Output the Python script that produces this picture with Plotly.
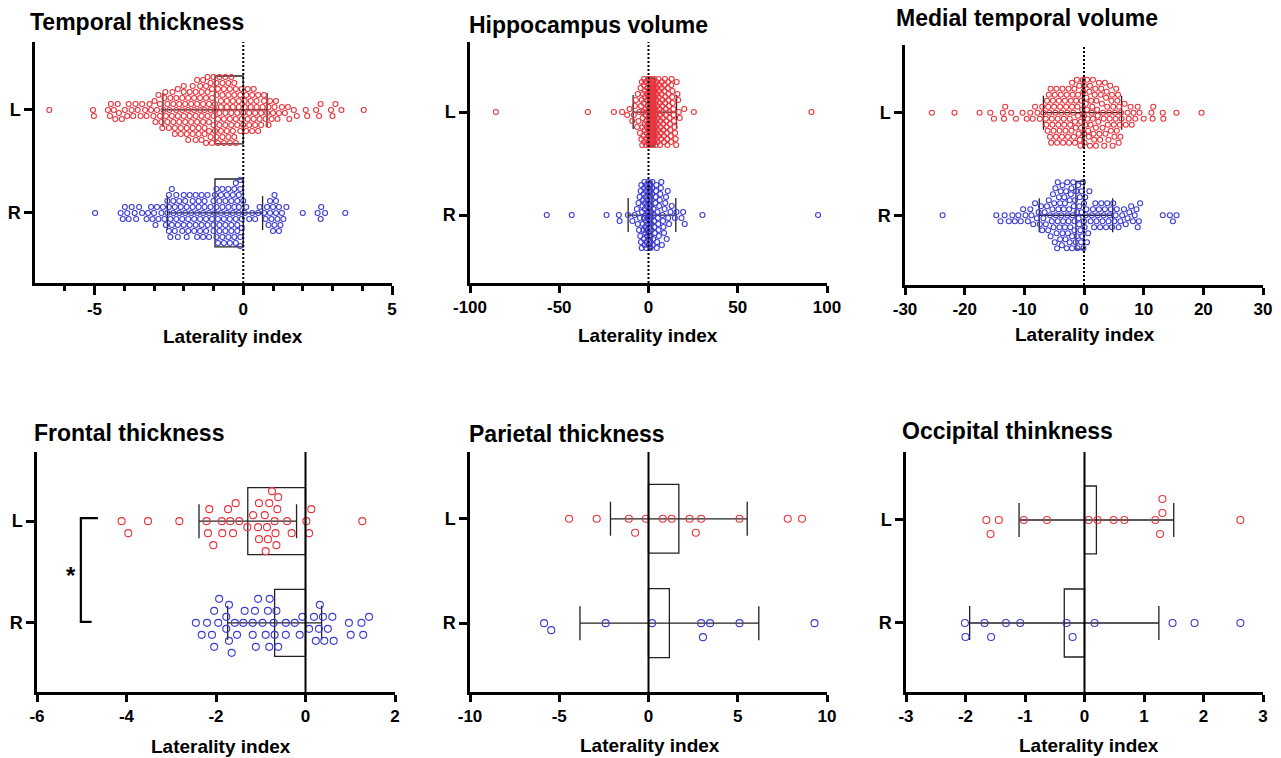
import numpy as np
import plotly.graph_objects as go

W, H = 1281, 758
RED = '#e8333c'
BLUE = '#3b3bd4'
FONT = 'Liberation Sans, Arial, sans-serif'

# ---------------- data ----------------
titles = ['Temporal thickness', 'Hippocampus volume', 'Medial temporal volume',
          'Frontal thickness', 'Parietal thickness', 'Occipital thinkness']
x_title = 'Laterality index'
cat_ticks = ['R', 'L']

x_tick_vals = [[-5, 0, 5], [-100, -50, 0, 50, 100], [-30, -20, -10, 0, 10, 20, 30],
               [-6, -4, -2, 0, 2], [-10, -5, 0, 5, 10], [-3, -2, -1, 0, 1, 2, 3]]
x_tick_text = [['-5', '0', '5'], ['-100', '-50', '0', '50', '100'],
               ['-30', '-20', '-10', '0', '10', '20', '30'],
               ['-6', '-4', '-2', '0', '2'], ['-10', '-5', '0', '5', '10'],
               ['-3', '-2', '-1', '0', '1', '2', '3']]
temporal_minor_ticks = [-6, -4, -3, -2, -1, 1, 2, 3, 4]

temporal_L = [
    -6.52, -5.05, -5.02,
    -4.55, -4.48, -4.45, -4.35, -4.3, -4.22, -4.18, -4.08, -3.98, -3.9, -3.85, -3.75, -3.7, -3.62,
    -3.55, -3.45, -3.4, -3.3, -3.25, -3.15, -3.1, -3.02,
    -2.98, -2.95, -2.9, -2.85, -2.8, -2.8, -2.75, -2.72,
    -2.68, -2.65, -2.62, -2.6, -2.55, -2.55, -2.5, -2.48, -2.45, -2.4, -2.38, -2.35,
    -2.35, -2.3, -2.3, -2.25, -2.25, -2.2, -2.2, -2.15, -2.15, -2.1, -2.1, -2.05, -2.05, -2.0, -2.0,
    -2.0, -1.95, -1.95, -1.9, -1.9, -1.85, -1.85, -1.85, -1.8, -1.8, -1.75, -1.75, -1.7, -1.7, -1.7,
    -1.65, -1.65, -1.6, -1.6, -1.6, -1.55, -1.55, -1.55, -1.5, -1.5,
    -1.45, -1.45, -1.45, -1.4, -1.4, -1.4, -1.35, -1.35, -1.35, -1.3, -1.3, -1.3, -1.25, -1.25, -1.25,
    -1.2, -1.2, -1.2, -1.15, -1.15, -1.15, -1.1, -1.1, -1.1, -1.05, -1.05, -1.05, -1.0, -1.0, -1.0,
    -0.95, -0.95, -0.95, -0.9, -0.9, -0.9, -0.85, -0.85, -0.85, -0.8, -0.8, -0.8, -0.75, -0.75, -0.75,
    -0.7, -0.7, -0.7, -0.65, -0.65, -0.65, -0.6, -0.6, -0.6, -0.55, -0.55, -0.55, -0.5, -0.5, -0.5,
    -0.45, -0.45, -0.45, -0.4, -0.4, -0.4, -0.35, -0.35, -0.35, -0.3, -0.3, -0.3, -0.25, -0.25, -0.25,
    -0.2, -0.2, -0.15, -0.15, -0.1, -0.1, -0.05, -0.05, 0.0, 0.0,
    0.05, 0.05, 0.1, 0.1, 0.15, 0.15, 0.2, 0.2, 0.25, 0.25, 0.3, 0.3, 0.35, 0.35, 0.4, 0.4,
    0.45, 0.45, 0.5, 0.5, 0.55, 0.6, 0.6, 0.65, 0.7, 0.7, 0.75, 0.8,
    0.85, 0.85, 0.9, 0.95, 1.0, 1.05, 1.1, 1.15, 1.2, 1.3,
    1.4, 1.5, 1.55, 1.7, 1.8, 2.1, 2.15, 2.45, 2.55, 2.6, 2.95, 3.0, 3.1, 3.3, 4.05]

temporal_R = [
    -4.98,
    -4.12, -4.05, -3.98, -3.9, -3.85, -3.75, -3.65, -3.6, -3.5, -3.4,
    -3.25, -3.2, -3.1, -3.05, -3.0, -2.95, -2.9, -2.85, -2.75, -2.7, -2.65, -2.6,
    -2.55, -2.55, -2.5, -2.5, -2.5, -2.45, -2.45, -2.4, -2.4, -2.35, -2.35, -2.3, -2.3, -2.25, -2.25,
    -2.2, -2.2, -2.15, -2.15, -2.1, -2.05, -2.05, -2.0, -2.0, -1.95, -1.95, -1.9, -1.9, -1.85, -1.85,
    -1.8, -1.8, -1.75, -1.7, -1.7, -1.65, -1.65, -1.6, -1.6, -1.55, -1.55, -1.5, -1.5, -1.45, -1.45,
    -1.4, -1.4, -1.35, -1.35, -1.3, -1.3, -1.25, -1.25, -1.2, -1.2, -1.15, -1.15, -1.1, -1.05,
    -1.0, -1.0, -1.0, -0.95, -0.95, -0.9, -0.9, -0.9, -0.85, -0.85, -0.8, -0.8, -0.8, -0.75, -0.75,
    -0.7, -0.7, -0.7, -0.65, -0.65, -0.6, -0.6, -0.6, -0.55, -0.55, -0.5, -0.5, -0.5, -0.45, -0.45,
    -0.4, -0.4, -0.4, -0.35, -0.35, -0.3, -0.3, -0.3, -0.25, -0.25, -0.25, -0.2, -0.2, -0.2,
    -0.15, -0.15, -0.15, -0.1, -0.1, -0.1, -0.1, -0.05, -0.05, 0.0, 0.05,
    0.1, 0.2, 0.3, 0.4, 0.5, 0.55,
    0.7, 0.75, 0.8, 0.85, 0.9, 0.9, 0.95, 1.0, 1.0, 1.05, 1.05, 1.1, 1.1, 1.15, 1.2, 1.2, 1.25, 1.3,
    1.35, 1.45,
    2.0, 2.5, 2.6, 2.62, 2.75, 3.43]

hippocampus_L = [
    -85.5, -34.0, -19.4, -14.8, -11.9, -10.6, -9.1,
    -8.2, -7.6, -7.1, -6.4, -6.0, -5.6, -5.1, -4.8, -4.5, -4.2,
    -4.0, -3.8, -3.7, -3.5, -3.4, -3.3, -3.1, -3.0, -2.9, -2.7, -2.6, -2.5, -2.4, -2.2, -2.1, -2.0,
    -1.9, -1.7, -1.6, -1.5, -1.4, -1.3, -1.2, -1.0, -0.9, -0.8, -0.7, -0.6, -0.5, -0.4, -0.3, -0.2,
    -0.1, -0.05, 0.0, 0.0, 0.1,
    0.1, 0.2, 0.2, 0.3, 0.4, 0.4, 0.5, 0.6, 0.7, 0.7, 0.8, 0.9, 1.0, 1.0, 1.1, 1.2, 1.3, 1.3, 1.4,
    1.5, 1.6, 1.6, 1.7, 1.8, 1.9, 2.0, 2.0, 2.1, 2.2, 2.3, 2.4, 2.4, 2.5, 2.6, 2.7, 2.8, 2.8, 2.9,
    3.0, 3.1, 3.2, 3.2, 3.3, 3.4, 3.5, 3.6, 3.6, 3.7, 3.8, 3.9, 4.0, 4.0, 4.1, 4.2, 4.3, 4.4, 4.5,
    4.5, 4.6, 4.7, 4.8, 4.9, 5.0, 5.1, 5.2, 5.3, 5.5, 5.6, 5.8, 5.9,
    6.0, 6.1, 6.3, 6.4, 6.5, 6.7, 6.8, 7.0, 7.1, 7.2, 7.4, 7.5, 7.7, 7.8, 8.0, 8.1, 8.3, 8.4, 8.6,
    8.7, 8.9, 9.0, 9.2, 9.3, 9.5, 9.7, 9.8, 10.0, 10.2, 10.3, 10.5, 10.6, 10.8, 11.0, 11.1, 11.3,
    11.5, 11.6, 11.8, 12.0,
    12.2, 12.4, 12.6, 12.8, 13.0, 13.2, 13.4, 13.6, 13.9, 14.1, 14.3, 14.6, 14.9, 15.2, 15.5, 15.8,
    16.2, 16.6, 17.0, 17.5,
    20.0, 25.4, 91.3]

hippocampus_R = [
    -57.0, -43.0, -23.5, -16.6, -16.2, -11.5, -9.0, -7.8,
    -6.5, -6.0, -5.6, -5.3, -5.0, -4.8, -4.6, -4.4, -4.2, -4.0, -3.8, -3.6, -3.4, -3.2, -3.0, -2.9,
    -2.7, -2.6, -2.5, -2.4, -2.3, -2.2, -2.1, -2.0,
    -1.9, -1.8, -1.7, -1.6, -1.5, -1.4, -1.3, -1.2, -1.1, -1.0, -0.9, -0.8, -0.7, -0.6, -0.5, -0.4,
    -0.3, -0.2, -0.1, 0.0, 0.0, 0.1, 0.2, 0.3, 0.4, 0.5, 0.6, 0.7, 0.8, 0.9, 1.0, 1.1, 1.2, 1.3,
    1.4, 1.5, 1.6, 1.7, 1.8, 1.9, 2.0,
    2.2, 2.4, 2.6, 2.8, 3.0, 3.2, 3.4, 3.6, 3.8, 4.0, 4.2, 4.4, 4.6, 4.8, 5.0, 5.2, 5.4, 5.6, 5.8, 6.0,
    6.3, 6.6, 6.9, 7.2, 7.5, 7.8, 8.1, 8.4, 8.7, 9.0, 9.4, 9.8,
    10.2, 10.8, 11.0, 11.5, 12.3, 13.0, 14.8, 15.7, 18.5, 19.4, 20.3, 30.2, 95.0]

medial_L = [
    -25.5, -21.7, -17.5, -15.7, -15.1, -13.6, -13.4, -13.2, -12.2, -11.4, -10.3, -9.6, -9.0, -8.6,
    -8.2, -7.8, -7.4, -7.0, -6.8,
    -6.4, -6.3, -6.2, -6.1, -6.0, -5.9, -5.8, -5.7, -5.6, -5.5, -5.4, -5.3, -5.2, -5.1, -5.0, -4.9,
    -4.8, -4.7, -4.6, -4.5, -4.4, -4.3, -4.2, -4.1, -4.0, -3.9, -3.8, -3.7, -3.6, -3.5, -3.4, -3.3,
    -3.2, -3.1, -3.0, -2.9, -2.8, -2.7, -2.6, -2.5, -2.4, -2.3, -2.2, -2.1, -2.0, -2.0, -1.9, -1.8,
    -1.7, -1.6, -1.5, -1.5, -1.4, -1.3, -1.2, -1.1, -1.0, -1.0, -0.9, -0.8, -0.7, -0.6, -0.5, -0.5,
    -0.4, -0.3, -0.2, -0.1, 0.0, 0.0, 0.0, 0.1, 0.2, 0.3, 0.4, 0.5, 0.5, 0.6, 0.7, 0.8, 0.9, 1.0,
    1.0, 1.1, 1.2, 1.3, 1.4, 1.5, 1.5, 1.6, 1.7, 1.8, 1.9, 2.0, 2.0, 2.1, 2.2, 2.3, 2.4, 2.5, 2.6,
    2.7, 2.8, 2.9, 3.0, 3.1, 3.2, 3.3, 3.4, 3.5, 3.6, 3.7, 3.8, 3.9, 4.0, 4.1, 4.2, 4.3, 4.4, 4.5,
    4.6, 4.7, 4.8, 4.9, 5.0, 5.1, 5.2, 5.3, 5.4, 5.5, 5.6, 5.7, 5.8, 5.9, 6.0, 6.1, 6.2, 6.3,
    6.8, 7.0, 7.3, 7.5, 7.8, 8.0, 8.3, 8.6, 9.0, 9.3, 10.0, 11.3, 11.5, 11.6, 13.2, 13.3, 15.5, 19.7]

medial_R = [
    -23.7,
    -14.7, -14.0, -13.3, -12.6, -12.0, -11.6, -11.0, -10.6, -10.2, -9.8, -9.4, -9.0, -8.8, -8.5,
    -8.2, -7.9, -7.6, -7.4, -7.2, -7.0, -6.8, -6.6, -6.4, -6.2, -6.0, -5.9, -5.7, -5.6, -5.4, -5.3,
    -5.2, -5.1, -5.0, -4.9, -4.8, -4.7, -4.6, -4.5, -4.4, -4.4, -4.3, -4.2, -4.1, -4.0, -4.0, -3.9,
    -3.8, -3.7, -3.6, -3.6, -3.5, -3.4, -3.3, -3.2, -3.2, -3.1, -3.0, -2.9, -2.8, -2.8, -2.7, -2.6,
    -2.5, -2.4, -2.4, -2.3, -2.2, -2.1, -2.0, -2.0, -1.9, -1.8, -1.7, -1.6, -1.6, -1.5, -1.4, -1.3,
    -1.2, -1.2, -1.1, -1.0, -0.9, -0.8, -0.8, -0.7, -0.6, -0.5, -0.4, -0.4, -0.3, -0.2, -0.1, 0.0,
    0.0, 0.1, 0.2, 0.3, 0.4,
    0.5, 0.7, 0.9, 1.1, 1.3, 1.5, 1.7, 1.9, 2.1, 2.3, 2.5, 2.7, 2.9, 3.1, 3.3, 3.5, 3.7, 3.9, 4.1,
    4.3, 4.5, 4.7, 4.9, 5.1, 5.3, 5.5, 5.8, 6.1, 6.4, 6.7, 7.0, 7.3, 7.6, 7.9, 8.2, 8.5, 8.8, 9.0,
    9.2, 9.4,
    13.2, 14.4, 14.9, 15.5]

frontal_L = [
    -4.11, -3.96, -3.52, -2.82,
    -2.06, -1.62, -1.06, -0.81, -0.63, 0.13,
    -2.18, -1.87, -1.48, -1.17, -0.75, -0.41, 0.02,
    -2.21, -1.73, -1.56, -1.30, -1.04, -0.84, -0.65, -0.31,
    -2.15, -1.86, -1.68, -1.04, -0.86, -0.67, 0.08,
    -0.89, -0.69, -0.91, -0.61, 1.27]

frontal_R = [
    -2.04, -1.65, -1.06, -0.89, -0.71, 0.32,
    -2.20, -1.93, -1.77, -1.39, -1.18, -0.84, -0.61, -0.44, -0.13, 0.08, 0.63, 1.29,
    -2.45, -2.32, -2.04, -1.77, -1.58, -1.13, -0.96, -0.69, -0.24, -0.07, 0.23, 0.42, 0.60,
    1.01, 1.25, 1.42, 0.97,
    -1.95, -1.71, -1.36, -1.18, -0.81, -0.44, 0.19, 0.39,
    -2.09, -1.71, -1.53, -1.11, -0.80, -0.65, 0.30, 0.50]

parietal_L = [-4.45, -2.9, -0.75, -1.1, -0.15, 0.8, 1.3, 2.3, 2.65, 2.95, 5.1, 7.8, 8.6]
parietal_R = [-5.45, -5.85, -2.4, 0.2, 3.05, 2.95, 3.45, 5.1, 9.3]

occipital_L = [-1.58, -1.44, -1.65, -1.02, -0.63, 0.07, 0.22, 0.49, 0.67, 1.31, 1.31, 1.19, 1.27, 2.62]
occipital_R = [-2.0, -2.01, -1.57, -1.68, -1.32, -1.08, -0.2, -0.3, 0.17, 1.48, 1.85, 2.62]

# mean and SD (bar end and whisker half-length)
mean_L = [-0.95, 3.55, -0.25, -1.29, 1.70, 0.20]
sd_L = [1.75, 12.15, 6.55, 1.09, 3.83, 1.30]
mean_R = [-0.95, 1.95, -1.35, -0.69, 1.17, -0.34]
sd_R = [1.60, 13.35, 6.15, 1.05, 5.01, 1.59]

x_ranges = [(-7, 5), (-100, 100), (-30, 30), (-6, 2), (-10, 10), (-3, 3)]

values_L = [temporal_L, hippocampus_L, medial_L, frontal_L, parietal_L, occipital_L]
values_R = [temporal_R, hippocampus_R, medial_R, frontal_R, parietal_R, occipital_R]

# ---------------- layout (pixels) ----------------
boxes = [(35, 392, 42, 283), (470, 827, 42, 283), (905, 1263, 45, 285),
         (37, 395, 452, 692), (470, 827, 452, 692), (906, 1263, 452, 692)]
y_ranges = [(-0.68, 1.66), (-0.66, 1.68), (-0.68, 1.66),
            (-0.68, 1.68), (-0.66, 1.64), (-0.67, 1.66)]
title_pos = [(28, 22), (467, 25), (894, 18), (32, 433), (467, 434), (900, 431)]
xlab_pos = [(233, 336), (648, 335), (1085, 334), (221, 746), (650, 745), (1089, 745)]
# swarm spacing: (horizontal min distance, vertical min distance, row step, max offset) in px
swarm_par = [(5.8, 6.0, 3.0, 34), (5.8, 6.0, 3.0, 34), (5.8, 6.0, 3.0, 34),
             (8.5, 12.0, 6.0, 31), (8.0, 14.0, 7.0, 22), (8.0, 14.0, 7.0, 22)]


def swarm(vals, ppx, ppy, dxm, dym, step, cap):
    v = np.asarray(vals, float)
    xs = v * ppx
    order = np.argsort(v, kind='stable')
    cands = [0.0]
    k = 1
    while k * step <= cap + 1e-9:
        cands += [k * step, -k * step]
        k += 1
    cands = np.array(cands)
    px, py = [], []
    off = np.zeros(len(v))
    for i in order:
        c = 0.0
        if px:
            ax = np.array(px)
            ay = np.array(py)
            near = np.abs(ax - xs[i]) < dxm
            if near.any():
                dx = (ax[near] - xs[i]) / dxm
                dy = ay[near]
                d = np.sqrt(dx[None, :] ** 2 + ((dy[None, :] - cands[:, None]) / dym) ** 2).min(axis=1)
                ok = np.where(d >= 1 - 1e-9)[0]
                c = cands[ok[0]] if len(ok) else cands[np.argmax(d)]
        off[i] = c
        px.append(xs[i])
        py.append(c)
    return off / ppy


fig = go.Figure()
layout = dict(width=W, height=H, margin=dict(l=0, r=0, t=0, b=0, pad=0, autoexpand=False),
              paper_bgcolor='white', plot_bgcolor='white', showlegend=False, autosize=False)
shapes, annotations = [], []

for i in range(6):
    n = i + 1
    xa = 'x' if n == 1 else f'x{n}'
    ya = 'y' if n == 1 else f'y{n}'
    l, r, t, b = boxes[i]
    xr, yr = x_ranges[i], y_ranges[i]
    ppx = (r - l) / (xr[1] - xr[0])
    ppy = (b - t) / (yr[1] - yr[0])
    top = i < 3
    ms = 5 if top else 7

    fig.add_trace(go.Bar(
        x=[mean_R[i], mean_L[i]], y=[0, 1], orientation='h', width=0.66,
        marker=dict(color='rgba(0,0,0,0)', line=dict(color='#222', width=1.3)),
        error_x=dict(type='data', array=[sd_R[i], sd_L[i]], color='#222', thickness=1.3, width=17),
        xaxis=xa, yaxis=ya, hoverinfo='skip'))

    for vals, base, col in ((values_L[i], 1, RED), (values_R[i], 0, BLUE)):
        offs = swarm(vals, ppx, ppy, *swarm_par[i])
        fig.add_trace(go.Scatter(
            x=vals, y=base - offs, mode='markers', xaxis=xa, yaxis=ya, cliponaxis=False,
            marker=dict(symbol='circle-open', size=ms, color=col, line=dict(width=1.1)),
            hoverinfo='skip'))

    tickfont = dict(family=FONT, size=17, color='black', weight='bold')
    xkw = dict(domain=[l / W, r / W], range=list(xr), anchor=ya, showgrid=False, zeroline=False,
               showline=True, linecolor='black', linewidth=2.5, ticks='outside',
               ticklen=9 if i == 0 else 7, tickwidth=2.5, tickcolor='black', tickmode='array',
               tickvals=x_tick_vals[i], ticktext=x_tick_text[i], tickfont=tickfont,
               fixedrange=True, automargin=False)
    if i == 0:
        xkw['minor'] = dict(tickmode='array', tickvals=temporal_minor_ticks, ticks='outside',
                            ticklen=5, tickwidth=2.5, tickcolor='black', showgrid=False)
    ykw = dict(domain=[1 - b / H, 1 - t / H], range=list(yr), anchor=xa, showgrid=False,
               zeroline=False, showline=True, linecolor='black', linewidth=2.5, ticks='outside',
               ticklen=8, tickwidth=2.5, tickcolor='black', tickvals=[0, 1], ticktext=cat_ticks,
               tickfont=dict(family=FONT, size=18, color='black', weight='bold'), fixedrange=True,
               automargin=False)
    layout['xaxis' if n == 1 else f'xaxis{n}'] = xkw
    layout['yaxis' if n == 1 else f'yaxis{n}'] = ykw

    shapes.append(dict(type='line', xref=xa, yref=f'{ya} domain', x0=0, x1=0, y0=0, y1=1,
                       line=dict(color='black', width=2, dash='2px,2px' if top else 'solid'),
                       layer='above'))

    tx, ty = title_pos[i]
    annotations.append(dict(text=f'<b>{titles[i]}</b>', xref='paper', yref='paper',
                            x=tx / W, y=1 - ty / H, xanchor='left', yanchor='middle',
                            showarrow=False, font=dict(family=FONT, size=23, color='black')))
    lx, ly = xlab_pos[i]
    annotations.append(dict(text=f'<b>{x_title}</b>', xref='paper', yref='paper',
                            x=lx / W, y=1 - ly / H, xanchor='center', yanchor='middle',
                            showarrow=False, font=dict(family=FONT, size=19, color='black')))

# significance bracket in the frontal panel
shapes.append(dict(type='path', xref='x4', yref='y4',
                   path='M -4.64,1.03 L -5.02,1.03 L -5.02,0.01 L -4.78,0.01',
                   line=dict(color='black', width=2.2)))
annotations.append(dict(text='<b>*</b>', xref='x4', yref='y4', x=-5.24, y=0.47,
                        showarrow=False, font=dict(family=FONT, size=24, color='black')))

layout['shapes'] = shapes
layout['annotations'] = annotations
fig.update_layout(**layout)
fig.write_html('out.html', config={'responsive': False})
